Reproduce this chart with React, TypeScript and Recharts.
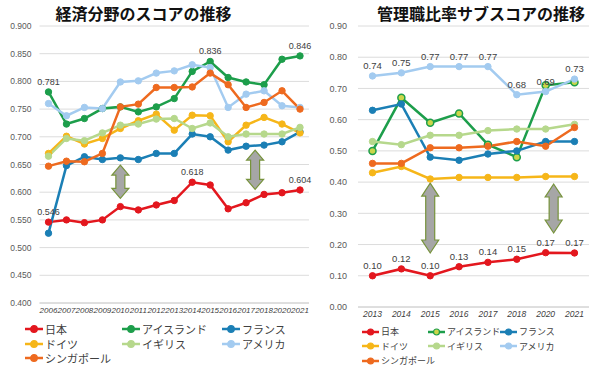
import { CartesianGrid, LabelList, Line, LineChart, ReferenceLine, XAxis, YAxis } from 'recharts'

// ---- series meta (legend order) ----
const seriesKeys   = ['japan', 'iceland', 'france', 'germany', 'uk', 'usa', 'singapore']
const seriesNames  = ['日本', 'アイスランド', 'フランス', 'ドイツ', 'イギリス', 'アメリカ', 'シンガポール']
const seriesColors = ['#e3171e', '#1d9e4b', '#1b7fb5', '#f6b619', '#b6d88c', '#a3cbf0', '#ee6a1f']

// ---- 経済分野のスコア ----
const econYears     = ['2006', '2007', '2008', '2009', '2010', '2011', '2012', '2013', '2014', '2015', '2016', '2017', '2018', '2020', '2021']
const econJapan     = [0.546, 0.550, 0.545, 0.550, 0.574, 0.568, 0.577, 0.585, 0.618, 0.613, 0.570, 0.581, 0.596, 0.599, 0.604]
const econIceland   = [0.781, 0.723, 0.733, 0.751, 0.754, 0.745, 0.754, 0.769, 0.818, 0.836, 0.807, 0.799, 0.794, 0.840, 0.846]
const econFrance    = [0.526, 0.648, 0.664, 0.659, 0.662, 0.659, 0.670, 0.670, 0.705, 0.700, 0.676, 0.683, 0.685, 0.691, 0.709]
const econGermany   = [0.670, 0.701, 0.687, 0.697, 0.715, 0.729, 0.741, 0.712, 0.739, 0.738, 0.691, 0.721, 0.735, 0.723, 0.707]
const econUk        = [0.665, 0.697, 0.693, 0.707, 0.721, 0.723, 0.732, 0.733, 0.715, 0.725, 0.700, 0.705, 0.705, 0.705, 0.717]
const econUsa       = [0.760, 0.738, 0.753, 0.751, 0.799, 0.801, 0.815, 0.819, 0.830, 0.825, 0.753, 0.777, 0.783, 0.756, 0.753]
const econSingapore = [0.647, 0.656, 0.655, 0.670, 0.754, 0.759, 0.789, 0.789, 0.790, 0.815, 0.794, 0.753, 0.762, 0.783, 0.750]
const econTicks     = [0.4, 0.45, 0.5, 0.55, 0.6, 0.65, 0.7, 0.75, 0.8, 0.85, 0.9]
const econIcelandLabelIdx = [0, 9, 14]
const econJapanLabelIdx   = [0, 8, 14]
// gap arrows: [year, top, bottom, shift(px)]
const econArrows: [string, number, number, number][] = [
  ['2010', 0.649, 0.589, 0],
  ['2017', 0.676, 0.605, 9],
]

// ---- 管理職比率サブスコア ----
const mgmtYears     = ['2013', '2014', '2015', '2016', '2017', '2018', '2020', '2021']
const mgmtJapan     = [0.100, 0.122, 0.100, 0.129, 0.143, 0.153, 0.174, 0.173]
const mgmtIceland   = [0.50, 0.67, 0.59, 0.62, 0.52, 0.48, 0.71, 0.72]
const mgmtFrance    = [0.63, 0.65, 0.48, 0.47, 0.49, 0.50, 0.53, 0.53]
const mgmtGermany   = [0.43, 0.45, 0.41, 0.415, 0.415, 0.415, 0.418, 0.418]
const mgmtUk        = [0.53, 0.52, 0.55, 0.55, 0.565, 0.57, 0.57, 0.585]
const mgmtUsa       = [0.74, 0.75, 0.77, 0.77, 0.77, 0.68, 0.69, 0.73]
const mgmtSingapore = [0.46, 0.46, 0.51, 0.51, 0.515, 0.53, 0.515, 0.575]
const mgmtTicks     = [0, 0.1, 0.2, 0.3, 0.4, 0.5, 0.6, 0.7, 0.8, 0.9]
const mgmtArrows: [string, number, number, number][] = [
  ['2015', 0.397, 0.173, 0],
  ['2020', 0.394, 0.237, 8],
]

const econSeries = [econJapan, econIceland, econFrance, econGermany, econUk, econUsa, econSingapore]
const mgmtSeries = [mgmtJapan, mgmtIceland, mgmtFrance, mgmtGermany, mgmtUk, mgmtUsa, mgmtSingapore]

const toRows = (years: string[], series: number[][]) =>
  years.map((year, i) => {
    const row: Record<string, string | number> = { year }
    seriesKeys.forEach((k, s) => { row[k] = series[s][i] })
    return row
  })

const econRows = toRows(econYears, econSeries)
const mgmtRows = toRows(mgmtYears, mgmtSeries)

const LABEL_FONT = '"Liberation Sans", Arial, sans-serif'
const JP_FONT = '"Noto Sans CJK JP", "Noto Sans", sans-serif'

const pickedLabel = (picked: number[] | null, digits: number, size: number) => (props: any) => {
  const { index, value } = props
  if (picked && !picked.includes(index)) return null
  const x = props.x ?? props.viewBox?.x
  const y = props.y ?? props.viewBox?.y
  return (
    <text x={x} y={y - 7} textAnchor="middle" fontSize={size} fill="#404040" fontFamily={LABEL_FONT}>
      {Number(value).toFixed(digits)}
    </text>
  )
}

function DoubleArrow(props: any) {
  const { x1, y1, y2, dx = 0, head = 10, halfHead = 8.5, halfShaft = 4.5 } = props
  const cx = x1 + dx
  const top = Math.min(y1, y2)
  const bot = Math.max(y1, y2)
  const d = [
    `M${cx},${top}`,
    `L${cx + halfHead},${top + head}`, `L${cx + halfShaft},${top + head}`,
    `L${cx + halfShaft},${bot - head}`, `L${cx + halfHead},${bot - head}`,
    `L${cx},${bot}`,
    `L${cx - halfHead},${bot - head}`, `L${cx - halfShaft},${bot - head}`,
    `L${cx - halfShaft},${top + head}`, `L${cx - halfHead},${top + head}`, 'Z',
  ].join(' ')
  return <path d={d} fill="#a6a6a6" stroke="#77933c" strokeWidth={1.2} />
}

function LegendGrid({ left, top, cols, rowH, fontSize, lineW, r, hollowIdx }: {
  left: number; top: number; cols: number[]; rowH: number; fontSize: number; lineW: number; r: number; hollowIdx?: number
}) {
  return (
    <div style={{ position: 'absolute', left: 0, top: 0 }}>
      {seriesNames.map((name, i) => {
        const col = i % 3
        const row = Math.floor(i / 3)
        const color = seriesColors[i]
        return (
          <div key={name} style={{
            position: 'absolute', left: left + cols[col], top: top + row * rowH - 8,
            height: 16, display: 'flex', alignItems: 'center', whiteSpace: 'nowrap',
          }}>
            <svg width={lineW} height={10} style={{ marginRight: 2 }}>
              <line x1={0} y1={5} x2={lineW} y2={5} stroke={color} strokeWidth={2.5} />
              <circle cx={lineW / 2} cy={5} r={r}
                fill={i === hollowIdx ? '#cbd64a' : color} stroke={color} strokeWidth={1.2} />
            </svg>
            <span style={{ fontSize, color: '#404040', fontFamily: JP_FONT }}>{name}</span>
          </div>
        )
      })}
    </div>
  )
}

export default function App() {
  return (
    <div style={{ position: 'absolute', left: 0, top: 0, width: 600, height: 372, background: '#fff', overflow: 'hidden' }}>
      <div style={{ position: 'absolute', left: 0, width: 287, top: 2, textAlign: 'center', fontSize: 16, fontWeight: 700, fontFamily: JP_FONT, color: '#111', lineHeight: '22px' }}>
        経済分野のスコアの推移
      </div>
      <div style={{ position: 'absolute', left: 300, width: 362, top: 2, textAlign: 'center', fontSize: 16, fontWeight: 700, fontFamily: JP_FONT, color: '#111', lineHeight: '22px' }}>
        管理職比率サブスコアの推移
      </div>

      <div style={{ position: 'absolute', left: 0, top: 0 }}>
        <LineChart width={320} height={372} data={econRows} margin={{ top: 26, right: 11, bottom: 49, left: 0 }}>
          <CartesianGrid vertical={false} stroke="#dcdcdc" />
          <XAxis dataKey="year" height={20} interval={0} tickLine={false} tickSize={4} tickMargin={0}
            padding={{ left: 9, right: 9 }}
            axisLine={{ stroke: '#d0d0d0' }}
            tick={{ fontSize: 8, fill: '#404040', fontStyle: 'italic', fontFamily: LABEL_FONT }} />
          <YAxis domain={[0.4, 0.9]} ticks={econTicks} width={39.5} axisLine={false} tickLine={false}
            tickFormatter={(v: number) => v.toFixed(3)}
            tick={{ fontSize: 8.5, fill: '#595959', fontFamily: LABEL_FONT }} />
          {seriesKeys.map((k, i) => (
            <Line key={k} dataKey={k} name={seriesNames[i]} stroke={seriesColors[i]} strokeWidth={2.5}
              dot={{ r: 3.2, fill: seriesColors[i], stroke: seriesColors[i], strokeWidth: 1 }}
              isAnimationActive={false}>
              {k === 'iceland' && <LabelList dataKey={k} content={pickedLabel(econIcelandLabelIdx, 3, 9)} />}
              {k === 'japan' && <LabelList dataKey={k} content={pickedLabel(econJapanLabelIdx, 3, 9)} />}
            </Line>
          ))}
          {econArrows.map(([yr, top, bot, dx]) => (
            <ReferenceLine key={yr} segment={[{ x: yr, y: top }, { x: yr, y: bot }]} ifOverflow="visible"
              shape={(p: any) => <DoubleArrow {...p} dx={dx} head={10} halfHead={8.5} halfShaft={4.5} />} />
          ))}
        </LineChart>
      </div>

      <div style={{ position: 'absolute', left: 300, top: 0 }}>
        <LineChart width={300} height={372} data={mgmtRows} margin={{ top: 26, right: 11, bottom: 45, left: 0 }}>
          <CartesianGrid vertical={false} stroke="#dcdcdc" />
          <XAxis dataKey="year" height={20} interval={0} tickLine={false} tickSize={4} tickMargin={0}
            padding={{ left: 14.5, right: 14.5 }}
            axisLine={{ stroke: '#d0d0d0' }}
            tick={{ fontSize: 8.5, fill: '#404040', fontStyle: 'italic', fontFamily: LABEL_FONT }} />
          <YAxis domain={[0, 0.9]} ticks={mgmtTicks} width={58} axisLine={false} tickLine={false} tickMargin={5}
            tickFormatter={(v: number) => v.toFixed(2)}
            tick={{ fontSize: 9, fill: '#595959', fontFamily: LABEL_FONT }} />
          {seriesKeys.map((k, i) => (
            <Line key={k} dataKey={k} name={seriesNames[i]} stroke={seriesColors[i]} strokeWidth={2.5}
              dot={k === 'iceland'
                ? { r: 3.5, fill: '#cbd64a', stroke: seriesColors[i], strokeWidth: 1.5 }
                : { r: 3.2, fill: seriesColors[i], stroke: seriesColors[i], strokeWidth: 1 }}
              isAnimationActive={false}>
              {(k === 'usa' || k === 'japan') && <LabelList dataKey={k} content={pickedLabel(null, 2, 9.5)} />}
            </Line>
          ))}
          {mgmtArrows.map(([yr, top, bot, dx]) => (
            <ReferenceLine key={yr} segment={[{ x: yr, y: top }, { x: yr, y: bot }]} ifOverflow="visible"
              shape={(p: any) => <DoubleArrow {...p} dx={dx} head={13} halfHead={8.5} halfShaft={4.5} />} />
          ))}
        </LineChart>
      </div>

      <LegendGrid left={0} top={329} cols={[25, 122, 222]} rowH={14.7} fontSize={11} lineW={18} r={3.3} />
      <LegendGrid left={300} top={331.5} cols={[62, 128, 200]} rowH={14.5} fontSize={9} lineW={17} r={3} hollowIdx={1} />
    </div>
  )
}
